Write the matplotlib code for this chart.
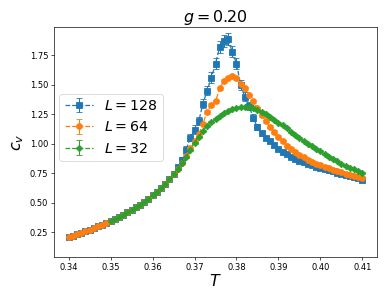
import numpy as np
import matplotlib
matplotlib.use("Agg")
import matplotlib.pyplot as plt

T_all = np.round(np.arange(0.340, 0.4105, 0.001), 3)
T_32 = np.round(np.arange(0.350, 0.4105, 0.001), 3)

low_common = [0.21, 0.22, 0.232, 0.245, 0.258, 0.272, 0.286, 0.30, 0.315, 0.33,
              0.347, 0.364, 0.381, 0.40, 0.42, 0.44, 0.46, 0.483, 0.507, 0.535,
              0.565, 0.595, 0.627, 0.66, 0.70, 0.745]

cv_128 = low_common + [
    0.80, 0.86, 0.95, 1.05, 1.12, 1.19, 1.34, 1.45, 1.56, 1.68,
    1.82, 1.87, 1.885, 1.78, 1.68, 1.50, 1.40, 1.32, 1.22, 1.14,
    1.09, 1.05, 1.02, 0.99, 0.955, 0.93, 0.91, 0.89, 0.873, 0.858,
    0.843, 0.83, 0.818, 0.806, 0.795, 0.785, 0.775, 0.765, 0.755, 0.745,
    0.736, 0.727, 0.717, 0.707, 0.697]
err_128 = [0.006] * 26 + [
    0.02, 0.025, 0.03, 0.03, 0.035, 0.035, 0.04, 0.04, 0.045, 0.045,
    0.05, 0.05, 0.05, 0.045, 0.045, 0.04, 0.035, 0.03, 0.03, 0.025,
    0.02, 0.018, 0.016, 0.015, 0.014, 0.013, 0.012, 0.011, 0.01, 0.01,
    0.01, 0.009, 0.009, 0.009, 0.008, 0.008, 0.008, 0.008, 0.007, 0.007,
    0.007, 0.007, 0.007, 0.007, 0.007]

cv_64 = low_common + [
    0.79, 0.84, 0.90, 0.96, 1.02, 1.08, 1.17, 1.27, 1.33, 1.36,
    1.47, 1.53, 1.56, 1.575, 1.555, 1.51, 1.47, 1.41, 1.36, 1.30,
    1.245, 1.19, 1.145, 1.10, 1.06, 1.02, 0.985, 0.955, 0.928, 0.905,
    0.885, 0.866, 0.848, 0.832, 0.818, 0.804, 0.791, 0.779, 0.768, 0.757,
    0.747, 0.737, 0.728, 0.72, 0.712]
err_64 = [0.005] * 26 + [0.015] * 45

cv_32 = low_common[10:] + [
    0.79, 0.84, 0.89, 0.95, 1.01, 1.06, 1.11, 1.15, 1.185, 1.21,
    1.235, 1.26, 1.28, 1.295, 1.305, 1.31, 1.313, 1.31, 1.30, 1.285,
    1.268, 1.25, 1.228, 1.205, 1.18, 1.155, 1.13, 1.10, 1.075, 1.05,
    1.025, 1.00, 0.98, 0.958, 0.935, 0.912, 0.89, 0.87, 0.85, 0.832,
    0.815, 0.798, 0.782, 0.767, 0.752]
err_32 = [0.008] * 61

labels = [r'$L=128$', r'$L=64$', r'$L=32$']
colors = ['#1f77b4', '#ff7f0e', '#2ca02c']
markers = ['s', 'o', 'D']
msizes = [6.5, 7, 5.5]

fig = plt.figure(figsize=(386 / 60, 290 / 60), dpi=60)
ax = fig.add_axes([54 / 386, 33 / 290, 323 / 386, 230 / 290])

series = [(T_all, cv_128, err_128), (T_all, cv_64, err_64), (T_32, cv_32, err_32)]
for (x, y, e), lab, c, m, ms in zip(series, labels, colors, markers, msizes):
    ax.errorbar(x, y, yerr=e, fmt='--' + m, color=c, label=lab, capsize=4,
                markersize=ms, elinewidth=1.2)

ax.set_title(r'$g=0.20$', fontsize=19)
ax.set_xlabel(r'$T$', fontsize=19, labelpad=1)
ax.set_ylabel(r'$c_v$', fontsize=19)
ax.set_xticks([0.34, 0.35, 0.36, 0.37, 0.38, 0.39, 0.40, 0.41])
ax.set_yticks([0.25, 0.50, 0.75, 1.00, 1.25, 1.50, 1.75])
ax.set_ylim(0.04, 1.99)
ax.legend(loc='upper left', bbox_to_anchor=(0.015, 0.71), borderaxespad=0,
          fontsize=17)

fig.savefig('out.png', dpi=60)
